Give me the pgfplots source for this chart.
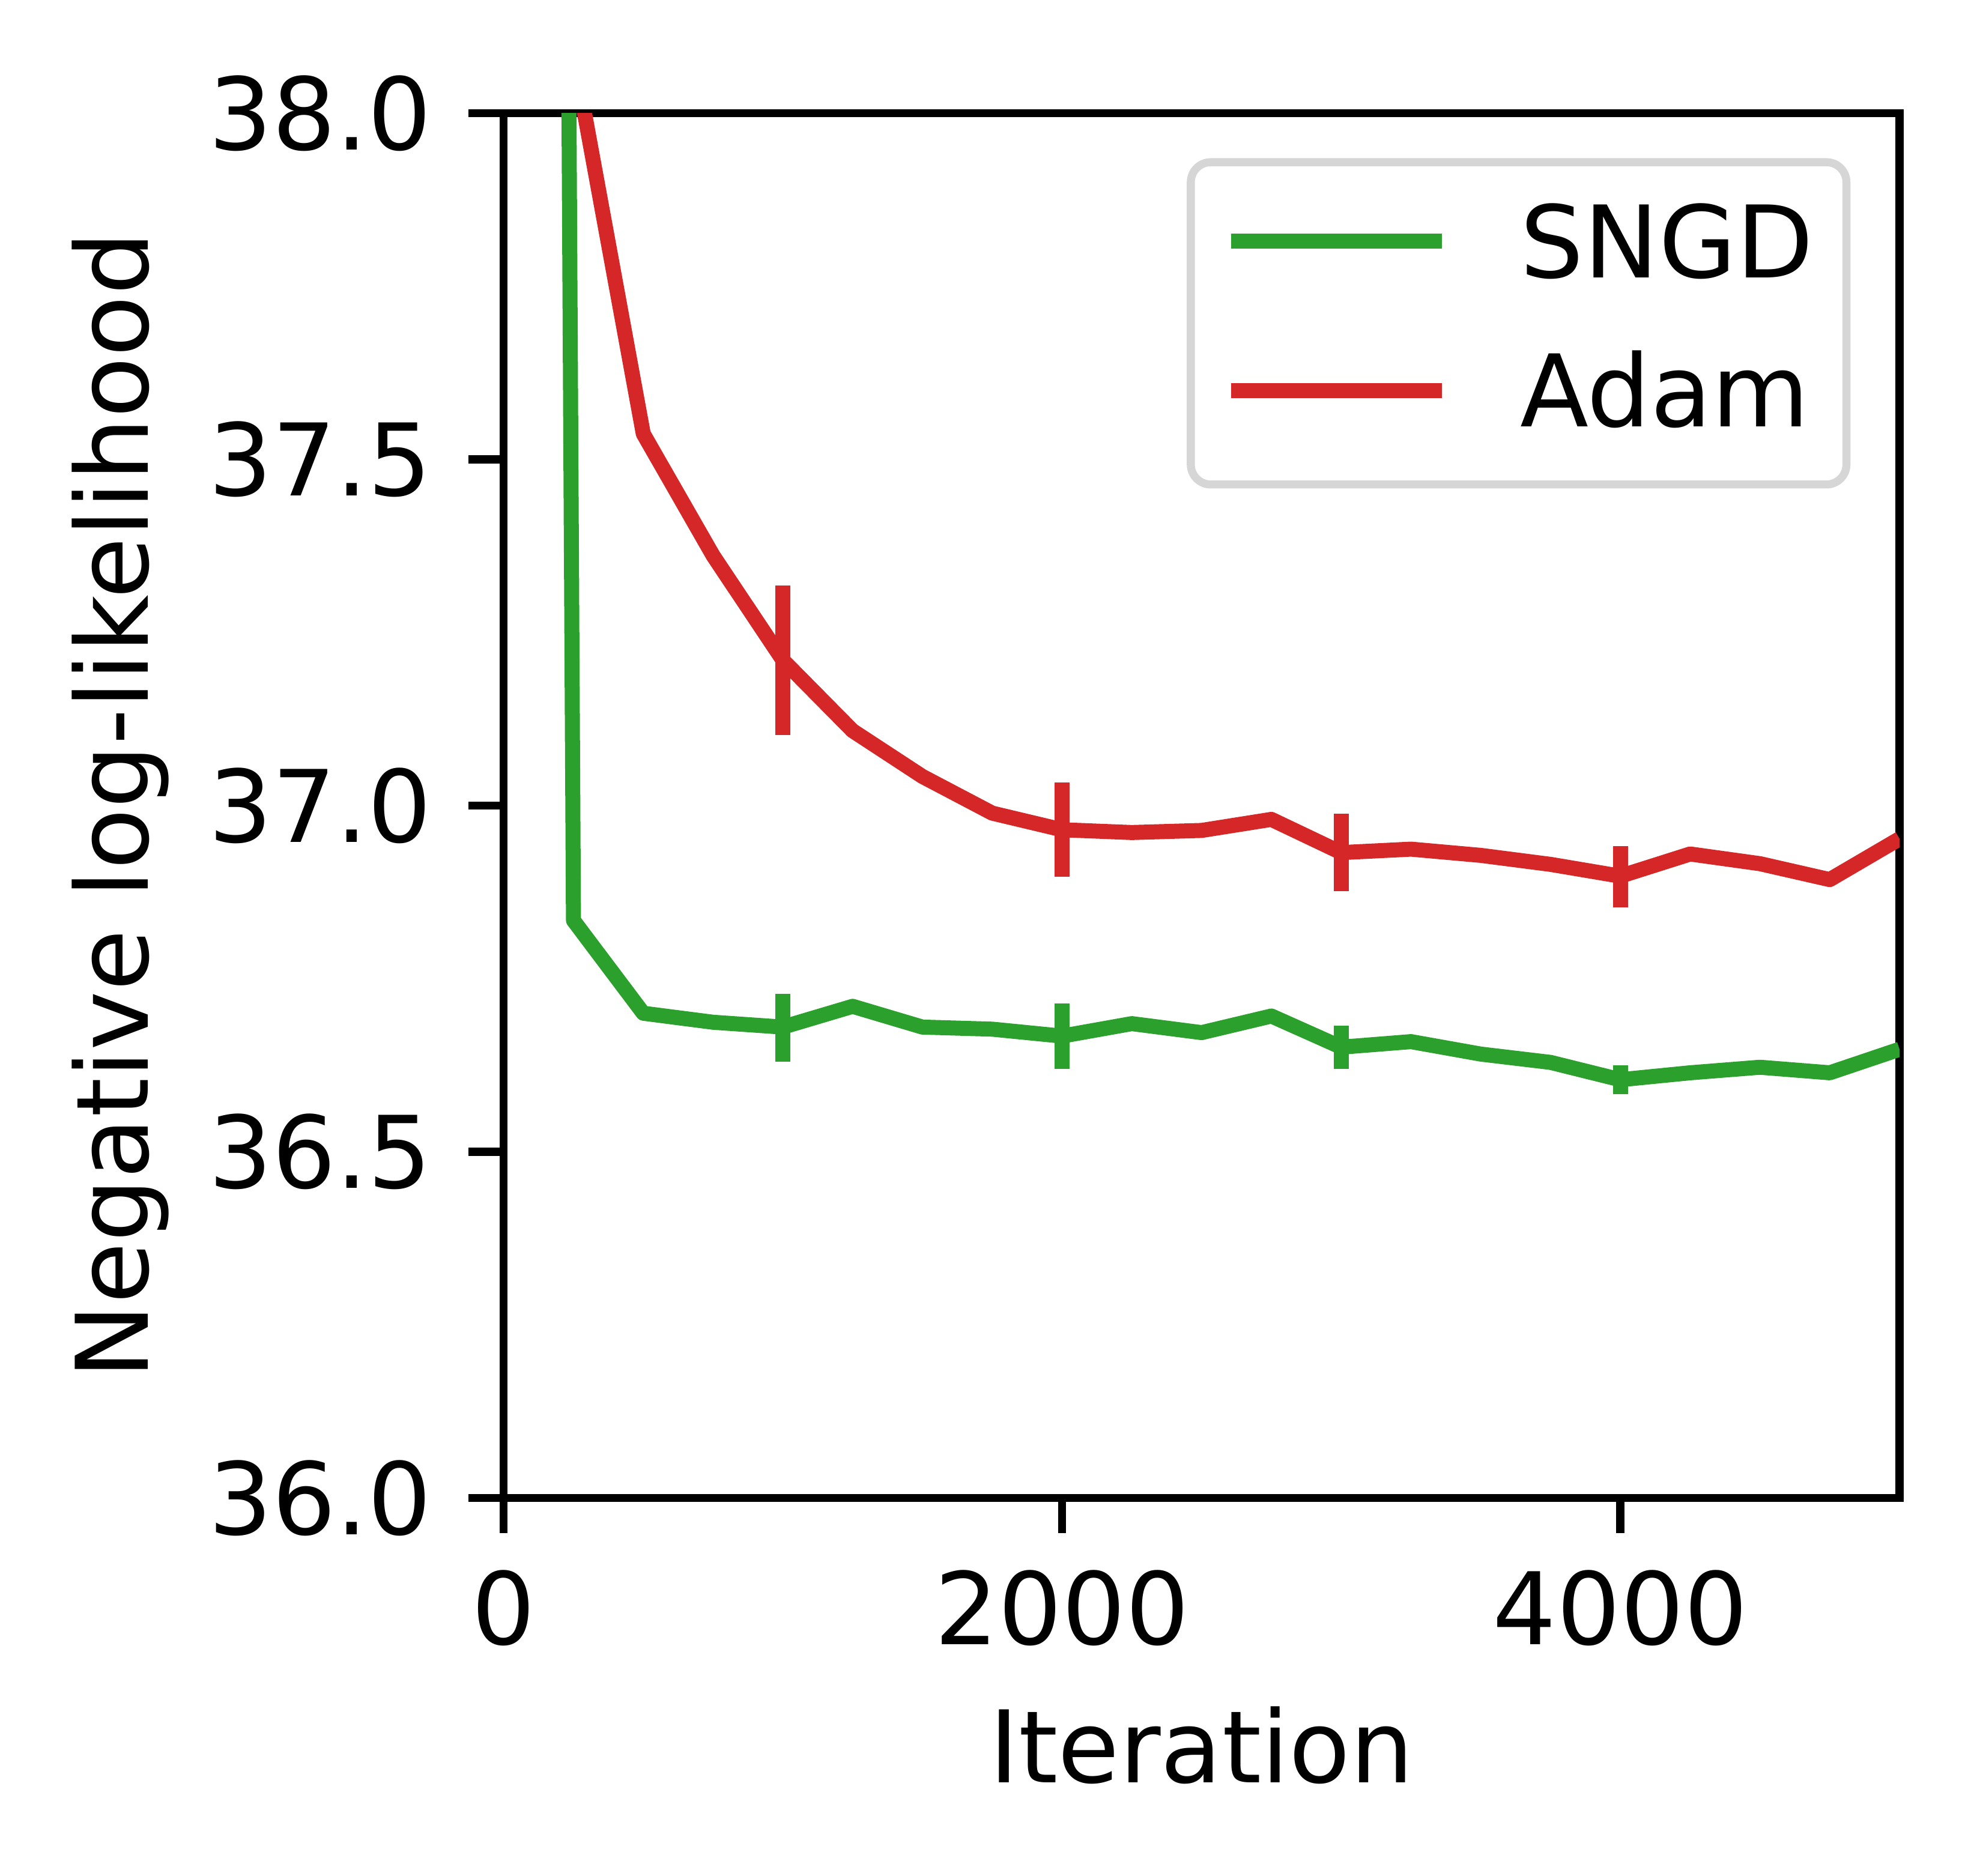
\documentclass[border=0pt]{standalone}
\usepackage{fontspec}
\setmainfont{DejaVu Sans}
\usepackage{pgfplots}
\usepackage{pgfplotstable}
\pgfplotsset{compat=1.18}
\definecolor{tabgreen}{HTML}{2CA02C}
\definecolor{tabred}{HTML}{D62728}
\definecolor{legendgray}{HTML}{D6D6D6}

\pgfplotstableread{
x y
0 55
250 36.834
500 36.700
750 36.687
1000 36.680
1250 36.710
1500 36.680
1750 36.677
2000 36.667
2250 36.685
2500 36.672
2750 36.696
3000 36.651
3250 36.659
3500 36.641
3750 36.629
4000 36.604
4250 36.614
4500 36.622
4750 36.614
5000 36.648
}\sngd

\pgfplotstableread{
x y
0 45
250 38.087
500 37.537
750 37.361
1000 37.210
1250 37.108
1500 37.042
1750 36.989
2000 36.965
2250 36.961
2500 36.964
2750 36.980
3000 36.932
3250 36.937
3500 36.928
3750 36.915
4000 36.898
4250 36.930
4500 36.916
4750 36.893
5000 36.952
}\adam

\pgfplotstableread{
x y e
1000 36.679 0.049
2000 36.667 0.047
3000 36.651 0.031
4000 36.604 0.021
}\sngderr

\pgfplotstableread{
x y e
1000 37.210 0.108
2000 36.965 0.068
3000 36.932 0.056
4000 36.897 0.044
}\adamerr

\begin{document}
\begin{tikzpicture}
\begin{axis}[
  scale only axis,
  width=139.4pt, height=138.3pt,
  xmin=0, xmax=5000, ymin=36, ymax=38,
  xtick={0,2000,4000},
  ytick={36,36.5,37,37.5,38},
  scaled x ticks=false,
  scaled y ticks=false,
  /pgf/number format/assume math mode=true,
  xticklabel style={/pgf/number format/1000 sep={}, inner sep=0pt, yshift=-3.5pt},
  yticklabel style={/pgf/number format/fixed, /pgf/number format/fixed zerofill, /pgf/number format/precision=1, inner sep=0pt, xshift=-3.5pt},
  tick align=outside,
  xtick pos=bottom, ytick pos=left,
  major tick length=3.5pt,
  every tick/.style={black, line width=0.8pt},
  axis line style={black, line width=0.8pt},
  xlabel={Iteration},
  ylabel={Negative log-likelihood},
  every axis x label/.style={at={(axis description cs:0.5,-0.2054)}, anchor=base},
  every axis y label/.style={at={(axis description cs:-0.2547,0.5)}, anchor=base, rotate=90},
  legend style={
    at={(1,1)}, anchor=north east, xshift=-4.9pt, yshift=-4.5pt,
    draw=legendgray, line width=0.8pt, rounded corners=2pt, fill=white,
    inner xsep=3.3pt, inner ysep=4.25pt,
    row sep=6.11pt, column sep=7.1pt,
    cells={anchor=base west},
    nodes={inner sep=0pt, text height=7.29pt, text depth=1.5pt, anchor=base west},
  },
  legend image code/.code={\draw[#1, line cap=butt] (0pt,3.645pt) -- (21pt,3.645pt);},
]
\coordinate (sw) at (rel axis cs:0,0);
\coordinate (ne) at (rel axis cs:1,1);
\addplot[tabgreen, line width=1.5pt, line join=round] table[x=x,y=y] {\sngd};
\addlegendentry{SNGD}
\addplot[tabred, line width=1.5pt, line join=round] table[x=x,y=y] {\adam};
\addlegendentry{Adam}
\addplot[draw=none, forget plot, error bars/.cd, y dir=both, y explicit, error mark=none,
  error bar style={draw=tabgreen, solid, line width=1.5pt, line cap=butt}]
  table[x=x, y=y, y error=e] {\sngderr};
\addplot[draw=none, forget plot, error bars/.cd, y dir=both, y explicit, error mark=none,
  error bar style={draw=tabred, solid, line width=1.5pt, line cap=butt}]
  table[x=x, y=y, y error=e] {\adamerr};
\end{axis}
\pgfresetboundingbox
\useasboundingbox ([xshift=-50.3pt,yshift=-37.7pt]sw) rectangle ([xshift=7.14pt,yshift=11.3pt]ne);
\end{tikzpicture}
\end{document}
